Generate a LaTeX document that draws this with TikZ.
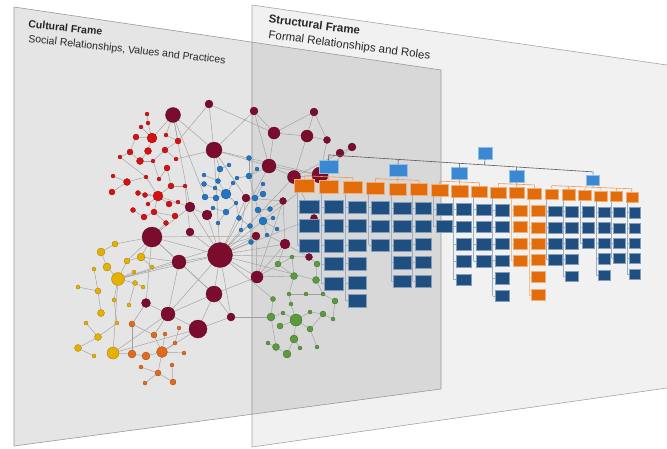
\documentclass[tikz,border=0pt]{standalone}
\usepackage{fontspec}
\setmainfont{Liberation Sans}
\usetikzlibrary{calc}
\definecolor{mar}{HTML}{7B0C2E}
\definecolor{rd}{HTML}{D61010}
\definecolor{bl}{HTML}{2176C4}
\definecolor{yl}{HTML}{E6B000}
\definecolor{orn}{HTML}{E06A1E}
\definecolor{gr}{HTML}{5C9A3E}
\definecolor{ohdr}{HTML}{E36C0A}
\definecolor{dblue}{HTML}{1F4E80}
\definecolor{lblue}{HTML}{3A88D2}
\definecolor{edgec}{HTML}{A0A0A0}
\definecolor{panelb}{HTML}{F1F1F1}
\definecolor{bordc}{HTML}{A6A6A6}
\pgfdeclarelayer{bg}
\pgfdeclarelayer{edges}
\pgfdeclarelayer{front}
\pgfsetlayers{bg,edges,main,front}
\newcommand\nn[4]{\node[nd=#1, minimum size=#4pt] (#2) at (#3) {};}
\tikzset{
  nd/.style={circle, inner sep=0pt, fill=#1, draw=#1!70!black, line width=0.3pt},
  edge/.style={draw=edgec, line width=0.45pt},
  box/.style={rectangle, inner sep=0pt, fill=#1, draw=#1!55!white, line width=0.4pt},
  stk/.style={draw=#1!45!white, line width=0.5pt},
  conn/.style={draw=black!65, line width=0.6pt},
  bracket/.style={draw=ohdr!70!white, line width=0.6pt},
  framelabel/.style={anchor=base west, inner sep=0pt, align=left, text=black!85},
}
\begin{document}
\begin{tikzpicture}[x=1pt,y=-1pt]
\useasboundingbox (0,0) rectangle (667,448);
% ---------------- panels
\begin{pgfonlayer}{bg}
\fill[panelb] (252,5) -- (667,65) -- (667,388) -- (252,447) -- cycle;
\draw[bordc, line width=0.6pt] (667,65) -- (252,5) -- (252,447) -- (667,388);
\fill[black, fill opacity=0.1] (14,7) -- (441,70) -- (441,389) -- (14,446) -- cycle;
\draw[bordc!92!black, line width=0.6pt] (14,7) -- (441,70) -- (441,389) -- (14,446) -- cycle;
\end{pgfonlayer}
% ---------------- titles (anchor = baseline of the last line)
\node[framelabel, rotate=-6.3, font=\fontsize{10.5}{14.5}\selectfont] (tc) at (28,42)
  {\hspace*{-1.6pt}\textbf{Cultural Frame}\\Social Relationships, Values and Practices};
\node[framelabel, rotate=-7.5, font=\fontsize{11.5}{15.6}\selectfont] (ts) at (268,38.3)
  {\hspace*{-2pt}\textbf{Structural Frame}\\Formal Relationships and Roles};
% ---------------- network nodes
% maroon
\nn{mar}{m1}{173,115}{15}
\nn{mar}{m2}{209,104}{8}
\nn{mar}{m3}{254,111}{8}
\nn{mar}{m4}{314,112}{8}
\nn{mar}{m5}{274,133}{12}
\nn{mar}{m6}{307,136}{12}
\nn{mar}{m7}{327,140}{7}
\nn{mar}{m8}{214,150}{16}
\nn{mar}{m9}{269,166}{14}
\nn{mar}{m10}{294,177}{13}
\nn{mar}{m11}{320,175}{16}
\nn{mar}{m12}{340,153}{8}
\nn{mar}{m13}{352,147}{8}
\nn{mar}{m14}{190,207}{10}
\nn{mar}{m15}{190,232}{8}
\nn{mar}{m16}{152,237}{20}
\nn{mar}{m17}{246,198}{8}
\nn{mar}{m18}{283,201}{7}
\nn{mar}{m19}{207,215}{10}
\nn{mar}{m20}{220,255}{25}
\nn{mar}{m21}{256,236}{8}
\nn{mar}{m22}{285,244}{10}
\nn{mar}{m23}{314,218}{7}
\nn{mar}{m24}{179,262}{14}
\nn{mar}{m25}{214,294}{16}
\nn{mar}{m26}{231,317}{8}
\nn{mar}{m27}{257,277}{12}
\nn{mar}{m28}{146,303}{9}
\nn{mar}{m29}{168,314}{14}
\nn{mar}{m30}{198,329}{18}
\nn{mar}{m31}{309,257}{7}
% red
\nn{rd}{r1}{147,114}{4}
\nn{rd}{r2}{148,123}{4}
\nn{rd}{r3}{141,127}{4}
\nn{rd}{r4}{136,137}{6}
\nn{rd}{r5}{152,138}{10}
\nn{rd}{r6}{166,135}{4}
\nn{rd}{r7}{178,141}{6}
\nn{rd}{r8}{130,152}{6}
\nn{rd}{r9}{148,151}{7}
\nn{rd}{r10}{165,150}{6}
\nn{rd}{r11}{120,157}{4}
\nn{rd}{r12}{140,161}{7}
\nn{rd}{r13}{153,161}{4}
\nn{rd}{r14}{176,159}{4}
\nn{rd}{r15}{167,168}{6}
\nn{rd}{r16}{113,176}{4}
\nn{rd}{r17}{146,177}{4}
\nn{rd}{r18}{127,182}{7}
\nn{rd}{r19}{159,179}{4}
\nn{rd}{r20}{171,186}{6}
\nn{rd}{r21}{185,186}{4}
\nn{rd}{r22}{112,192}{6}
\nn{rd}{r23}{138,193}{5}
\nn{rd}{r24}{145,195}{5}
\nn{rd}{r25}{158,196}{10}
\nn{rd}{r26}{169,204}{6}
\nn{rd}{r27}{178,202}{4}
\nn{rd}{r28}{148,204}{4}
\nn{rd}{r29}{133,210}{5}
\nn{rd}{r30}{154,212}{6}
\nn{rd}{r31}{175,216}{6}
\nn{rd}{r32}{144,217}{6}
\nn{rd}{r33}{166,223}{5}
% blue
\nn{bl}{b1}{249,158}{5}
\nn{bl}{b2}{229,165}{4}
\nn{bl}{b3}{220,169}{6}
\nn{bl}{b4}{257,169}{4}
\nn{bl}{b5}{204,175}{4}
\nn{bl}{b6}{249,176}{6}
\nn{bl}{b7}{237,178}{4}
\nn{bl}{b8}{218,181}{5}
\nn{bl}{b9}{263,184}{4}
\nn{bl}{b10}{204,184}{5}
\nn{bl}{b11}{233,183}{4}
\nn{bl}{b12}{215,188}{4}
\nn{bl}{b13}{226,194}{10}
\nn{bl}{b14}{205,197}{6}
\nn{bl}{b15}{216,198}{6}
\nn{bl}{b16}{255,198}{6}
\nn{bl}{b17}{263,194}{6}
\nn{bl}{b18}{236,203}{4}
\nn{bl}{b19}{213,208}{4}
\nn{bl}{b20}{226,212}{6}
\nn{bl}{b21}{258,210}{6}
\nn{bl}{b22}{270,209}{5}
\nn{bl}{b23}{239,218}{5}
\nn{bl}{b24}{263,221}{8}
\nn{bl}{b25}{273,218}{4}
\nn{bl}{b26}{218,223}{4}
\nn{bl}{b27}{250,226}{5}
\nn{bl}{b28}{241,230}{4}
\nn{bl}{b29}{277,229}{4}
\nn{bl}{b30}{251,242}{5}
\nn{bl}{b31}{267,235}{4}
% yellow
\nn{yl}{y1}{115,244}{6}
\nn{yl}{y2}{101,252}{8}
\nn{yl}{y3}{127,261}{6}
\nn{yl}{y4}{141,257}{8}
\nn{yl}{y5}{107,267}{8}
\nn{yl}{y6}{94,269}{4}
\nn{yl}{y7}{152,267}{4}
\nn{yl}{y8}{134,272}{4}
\nn{yl}{y9}{118,279}{13}
\nn{yl}{y10}{135,283}{5}
\nn{yl}{y11}{143,287}{4}
\nn{yl}{y12}{78,287}{4}
\nn{yl}{y13}{98,291}{6}
\nn{yl}{y14}{114,300}{4}
\nn{yl}{y15}{129,305}{4}
\nn{yl}{y16}{101,313}{7}
\nn{yl}{y17}{86,323}{4}
\nn{yl}{y18}{117,323}{4}
\nn{yl}{y19}{98,337}{7}
\nn{yl}{y20}{78,348}{7}
\nn{yl}{y21}{113,353}{12}
\nn{yl}{y22}{94,356}{4}
% orange
\nn{orn}{o1}{132,324}{6}
\nn{orn}{o2}{154,335}{6}
\nn{orn}{o3}{165,334}{4}
\nn{orn}{o4}{179,328}{4}
\nn{orn}{o5}{175,343}{4}
\nn{orn}{o6}{132,354}{8}
\nn{orn}{o7}{146,356}{8}
\nn{orn}{o8}{162,352}{11}
\nn{orn}{o9}{184,353}{4}
\nn{orn}{o10}{141,367}{4}
\nn{orn}{o11}{158,373}{6}
\nn{orn}{o12}{172,365}{4}
\nn{orn}{o13}{145,383}{4}
\nn{orn}{o14}{173,382}{6}
% green
\nn{gr}{g1}{292,257}{4}
\nn{gr}{g2}{278,264}{6}
\nn{gr}{g3}{317,264}{6}
\nn{gr}{g4}{294,276}{7}
\nn{gr}{g5}{316,280}{7}
\nn{gr}{g6}{289,294}{4}
\nn{gr}{g7}{306,294}{4}
\nn{gr}{g8}{273,299}{5}
\nn{gr}{g9}{291,304}{4}
\nn{gr}{g10}{323,294}{4}
\nn{gr}{g11}{335,301}{6}
\nn{gr}{g12}{333,319}{4}
\nn{gr}{g13}{310,312}{4}
\nn{gr}{g14}{283,313}{4}
\nn{gr}{g15}{271,317}{8}
\nn{gr}{g16}{296,320}{12}
\nn{gr}{g17}{323,314}{6}
\nn{gr}{g18}{280,326}{6}
\nn{gr}{g19}{310,329}{6}
\nn{gr}{g20}{294,339}{8}
\nn{gr}{g21}{268,343}{4}
\nn{gr}{g22}{276,347}{7}
\nn{gr}{g23}{300,348}{4}
\nn{gr}{g24}{317,347}{4}
\nn{gr}{g25}{287,354}{8}
% ---------------- network edges
\begin{pgfonlayer}{edges}
\foreach \a/\b in {r1/r2, r2/r5, r3/r5, r4/r5, r5/m1, r6/r7, r5/r9, r4/r8, r8/r12, r9/r12, r12/r13, r10/r7, r10/r13, r10/r14, r11/r17, r11/r8, r13/r19, r15/r19, r16/r18, r18/r17, r18/r22, r17/r25, r25/r20, r20/r21, r20/r15, r25/r23, r25/r24, r25/r26, r25/r30, r30/r32, r30/r31, r30/r33, r29/r32, r28/r25, r27/r26, m1/r6, m1/r7,
 b3/b2, b3/b8, b5/b8, b8/b13, b13/b15, b15/b14, b13/b11, b11/b7, b7/b6, b6/b1, b6/b4, b13/b18, b18/b20, b20/b19, b18/b23, b23/b27, b27/b28, b16/b17, b16/b21, b21/b22, b21/b24, b24/b25, b24/b29, b24/b31, b27/b30, b9/b16, b10/b12, b12/b13, b26/b20, b6/b16,
 y1/y2, y1/m16, y2/y5, y5/y9, y3/y9, y3/y4, y4/y7, y8/y9, y9/y10, y10/y11, y6/y13, y13/y12, y13/y16, y9/y21, y14/y18, y15/y10, y17/y19, y19/y18, y19/y20, y20/y22, y21/o6, y9/m24, y9/m20, y21/m30, y21/m29, y4/m16, y14/y9, y9/m21,
 o1/o6, o1/o2, o2/o8, o8/o7, o8/o3, o8/o5, o5/o4, o8/o11, o11/o10, o11/o13, o11/o14, o14/o12, o7/o6, o8/o9,
 g2/g4, g1/g4, g3/g5, g6/g7, g8/g15, g6/g9, g15/g14, g14/g16, g16/g13, g13/g17, g16/g18, g16/g20, g20/g25, g25/g22, g22/g21, g16/g19, g19/g24, g19/g17, g7/g10, g10/g11, g5/g10, g20/g23, g15/g22, g9/g16, g4/g6, g11/g12, g12/g17,
 m1/m8, m1/m14, m1/b14, m2/m8, m2/m5, m3/m9, m3/m8, m3/m5, m4/m6, m4/m5, m5/m6, m6/m7, m6/m10, m5/m9, m8/m9, m8/m17, m9/m10, m9/m11, m10/m11, m12/m10, m13/m11, m11/m7, m9/b6, m9/m20, m10/m20, m17/m20, m14/m20, m19/m20, m15/m20, m16/m20, m16/m14, m16/m24, m16/r33, m16/y3, m16/m28, m16/m25, m20/m24, m20/m25, m20/m27, m20/m22, m20/m21, m20/m29, m20/m26, m20/m31, m20/b30, m20/m23, m20/g8, m20/m11, m22/m18, m22/m31, m22/m27, m22/g2, m24/m25, m24/m29, m24/y4, m25/m29, m25/m30, m25/m26, m25/m27, m27/m18, m27/g1, m28/m29, m28/o1, m29/m30, m29/o2, m30/o8, m30/m26, m19/b19, m19/m14, m15/r21, m14/r25, m17/m18, m17/b28, m23/m10, m31/g3, m22/b31, m21/m27, m20/b28, m8/m20, m20/g5, m8/r14, m12/m13, m4/m7, m18/b22, m26/g15, m27/g4, m8/m11, m16/m21, m8/b3, m2/r7}
  \draw[edge] (\a) -- (\b);
\end{pgfonlayer}
% ---------------- org chart
\begin{pgfonlayer}{front}
\foreach \x/\nb/\kc [count=\i] in {304.3/3/dblue, 328.7/5/dblue, 352.8/6/dblue, 375.5/3/dblue, 397.8/5/dblue, 419/5/dblue, 439.7/2/dblue, 459.7/5/dblue, 479.5/4/dblue, 498.3/6/dblue, 516.7/4/ohdr, 534.5/6/ohdr, 551.7/4/dblue, 568.5/5/dblue, 585/3/dblue, 600.8/5/dblue, 616.3/4/dblue, 631.7/5/dblue}{
  \pgfmathsetmacro\f{(\x-304)/328}
  \pgfmathsetmacro\w{20-8*\f}
  \pgfmathsetmacro\h{13-3*\f}
  \pgfmathsetmacro\off{5-2*\f}
  \pgfmathsetmacro\yo{185.5+11.5*\f}
  \pgfmathsetmacro\bx{\x+\off}
  \pgfmathsetmacro\lx{\x-\w/2+\off/2}
  \node[box=ohdr, minimum width=\w pt, minimum height=\h pt] (h\i) at (\x,\yo) {};
  \coordinate (s\i) at (\lx,\yo);
  \foreach \yl/\yr [count=\j] in {206.3/212.7, 225.5/228, 245.5/243, 264.5/258, 284.5/274, 302/292}{
    \ifnum\j>\nb\relax\else
      \pgfmathsetmacro\yy{\yl+(\yr-\yl)*\f}
      \node[box=\kc, minimum width=\w pt-0.5pt, minimum height=\h pt] (c\i-\j) at (\bx,\yy) {};
      \draw[stk=\kc] (s\i |- c\i-\j.west) -- (c\i-\j.west);
    \fi
  }
  \draw[stk=\kc] (s\i |- h\i.south) -- (s\i |- c\i-\nb.west);
}
\foreach \x/\nm in {328.5/L1, 398/L2, 459.5/L3, 516.5/L4, 593/L5}{
  \pgfmathsetmacro\f{(\x-304)/328}
  \pgfmathsetmacro\w{20-8*\f}
  \pgfmathsetmacro\h{13-3*\f}
  \pgfmathsetmacro\yy{167+0.049*(\x-328.5)}
  \node[box=lblue, minimum width=\w pt, minimum height=\h pt] (\nm) at (\x,\yy) {};
}
\node[box=lblue, minimum width=14.5pt, minimum height=11.5pt] (T) at (485,153) {};
\coordinate (A) at ($(L1.north)+(0,-5.5)$);
\coordinate (B) at ($(L5.north)+(0,-2.7)$);
\draw[conn] (A) -- (B);
\foreach \n in {L1,L2,L3,L4,L5} \draw[conn] (\n.north) -- ($(A)!(\n.north)!(B)$);
\draw[conn] (T.south) -- ($(A)!(T.south)!(B)$);
\foreach \n/\a/\b in {L1/1/3, L2/4/6, L3/7/9, L4/10/12, L5/13/18}{
  \coordinate (P) at ($(h\a.north)+(0,-3)$);
  \coordinate (Q) at ($(h\b.north)+(0,-3)$);
  \draw[bracket] (P) -- (Q);
  \draw[bracket] (\n.south) -- ($(P)!(\n.south)!(Q)$);
  \foreach \k in {\a,...,\b} \draw[bracket] (h\k.north) -- ($(P)!(h\k.north)!(Q)$);
}
\end{pgfonlayer}
\end{tikzpicture}
\end{document}
